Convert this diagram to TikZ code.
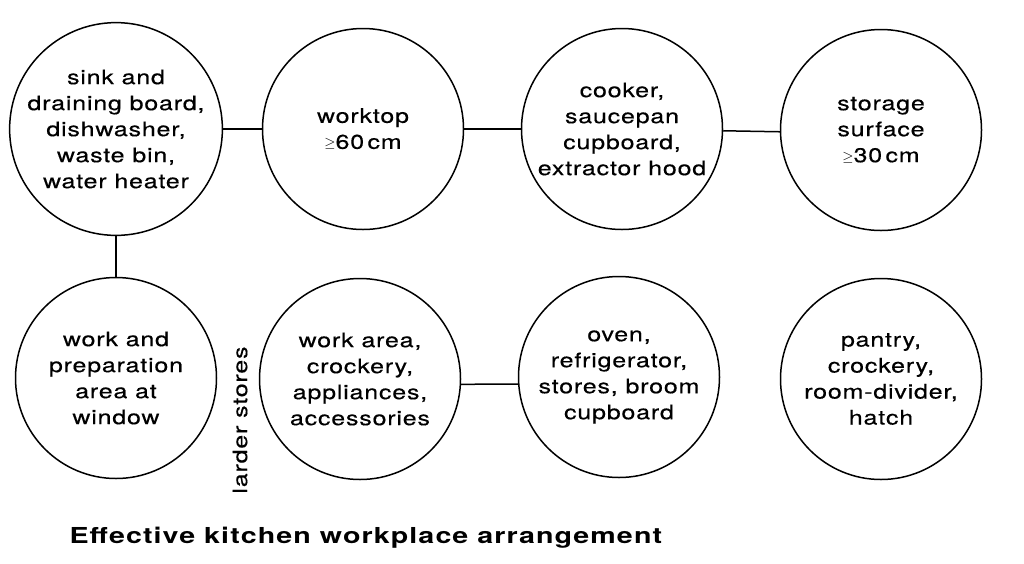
\documentclass[tikz,border=0pt]{standalone}
\usepackage{fontspec}
\newfontfamily\bodyfont[FakeStretch=1.25,LetterSpace=4,FakeBold=0.4]{TeX Gyre Heros}
\newfontfamily\titlefont[FakeStretch=1.3,LetterSpace=5]{TeX Gyre Heros}
\newcommand{\gesym}{\raisebox{0.05em}{\fontsize{15}{15}\selectfont$\geq$}}
\begin{document}
\begin{tikzpicture}[x=1pt,y=-1pt,
  place/.style={circle,draw,line width=1.5pt,minimum size=201pt,inner sep=0pt,align=center,
    font=\bodyfont\fontsize{20}{26}\selectfont},
  link/.style={line width=1.5pt},
  side/.style={font=\bodyfont\fontsize{20}{26}\selectfont,rotate=90},
  caption/.style={font=\titlefont\bfseries\fontsize{22}{26}\selectfont,anchor=west}]
\useasboundingbox (0,0) rectangle (1024,563);
\node[place] (c1) at (116,129) {sink and\\draining board,\\dishwasher,\\waste bin,\\water heater};
\node[place] (c2) at (363,129) {worktop\\\gesym60\,cm};
\node[place] (c3) at (622,129) {cooker,\\saucepan\\cupboard,\\extractor hood};
\node[place] (c4) at (881,130) {storage\\surface\\\gesym30\,cm};
\node[place] (c5) at (116,378) {work and\\preparation\\area at\\window};
\node[place] (c6) at (360,379) {work area,\\crockery,\\appliances,\\accessories};
\node[place] (c7) at (619,377) {oven,\\refrigerator,\\stores, broom\\cupboard};
\node[place] (c8) at (881,379) {pantry,\\crockery,\\room-divider,\\hatch};
\draw[link] (c1.east) -- (c2.west);
\draw[link] (c2.east) -- (c3.west);
\draw[link] (c3.-1) -- (c4.181);
\draw[link] (c1.south) -- (c5.north);
\draw[link] (c6.-3.5) -- (c7.184.5);
\node[side] (larder) at (240,420) {larder stores};
\node[caption] (title) at (66,538) {Effective kitchen workplace arrangement};
\end{tikzpicture}
\end{document}
